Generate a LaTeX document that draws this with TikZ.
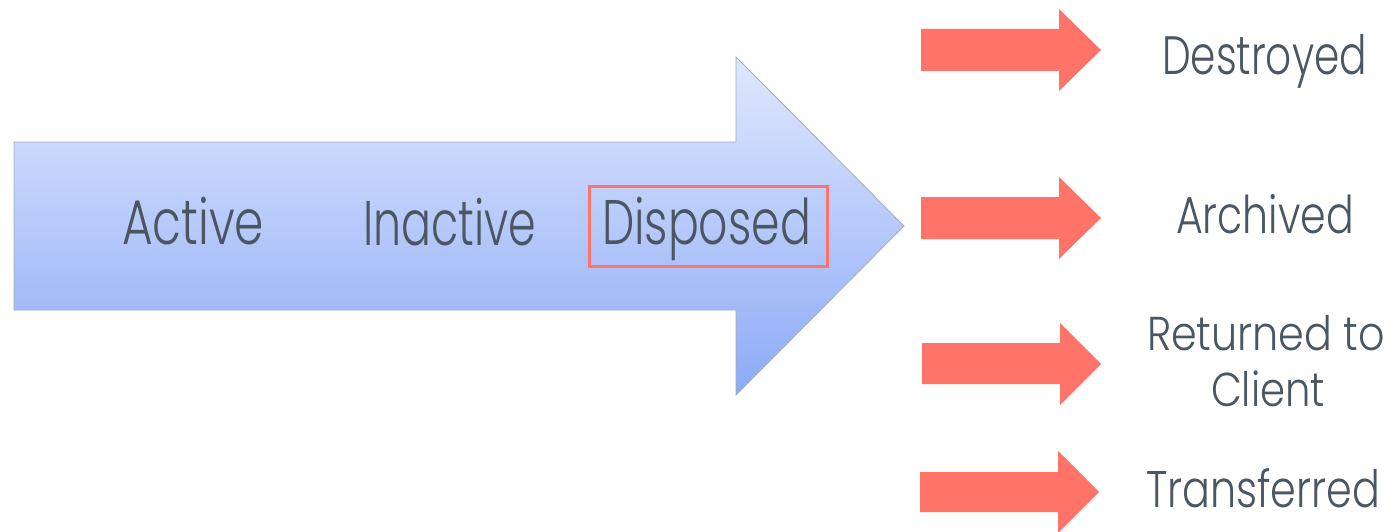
\documentclass[tikz,border=0pt]{standalone}
\usepackage{fontspec}
\setmainfont{Poppins Light}
\usepackage{graphicx}
\definecolor{txt}{HTML}{4A5662}
\definecolor{redA}{HTML}{FF7369}
\definecolor{blueTop}{HTML}{E0E8FE}
\definecolor{blueBot}{HTML}{8CAAF5}
\definecolor{edge}{HTML}{A3ABBA}
\newcommand{\lbl}[3]{\resizebox{#1pt}{\height}{\fontsize{#2}{#2}\selectfont #3}}
\tikzset{
  lab/.style={anchor=base west, inner sep=0pt, outer sep=0pt, text=txt},
  redarrow/.style={fill=redA, draw=none},
  bigarrow/.style={draw=edge, line width=0.8pt, top color=blueTop, bottom color=blueBot, shading angle=0},
  dispbox/.style={draw=redA, line width=3pt}
}
\begin{document}
\begin{tikzpicture}[x=1pt,y=-1pt]
\useasboundingbox (0,0) rectangle (1399,532);
% big arrow
\draw[bigarrow] (14,142) -- (736,142) -- (736,57) -- (904,226) -- (736,395) -- (736,310) -- (14,310) -- cycle;
% labels on arrow
\node[lab] (active) at (122,244) {\lbl{142}{63}{Active}};
\node[lab] (inactive) at (363,245) {\lbl{173}{63}{Inactive}};
\node[lab] (disposed) at (602,244) {\lbl{209}{63}{Disposed}};
\draw[dispbox] (589,186) rectangle (827,266);
% red arrows
\draw[redarrow] (921,29) -- (1059,29) -- (1059,9) -- (1101,50) -- (1059,91) -- (1059,71) -- (921,71) -- cycle;
\draw[redarrow] (921,197) -- (1059,197) -- (1059,177) -- (1101,218) -- (1059,259) -- (1059,239) -- (921,239) -- cycle;
\draw[redarrow] (922,343) -- (1060,343) -- (1060,323) -- (1101,364) -- (1060,405) -- (1060,384) -- (922,384) -- cycle;
\draw[redarrow] (920,472) -- (1058,472) -- (1058,451) -- (1099,492) -- (1058,533) -- (1058,512) -- (920,512) -- cycle;
% outcome labels
\node[lab] (destroyed) at (1162,75) {\lbl{205}{54}{Destroyed}};
\node[lab] (archived) at (1176,233) {\lbl{178}{52}{Archived}};
\node[lab] (returned) at (1147,350) {\lbl{238}{47.5}{Returned to}};
\node[lab] (client) at (1211,406) {\lbl{114}{47.5}{Client}};
\node[lab] (transferred) at (1146,507) {\lbl{234}{51.5}{Transferred}};
\end{tikzpicture}
\end{document}
